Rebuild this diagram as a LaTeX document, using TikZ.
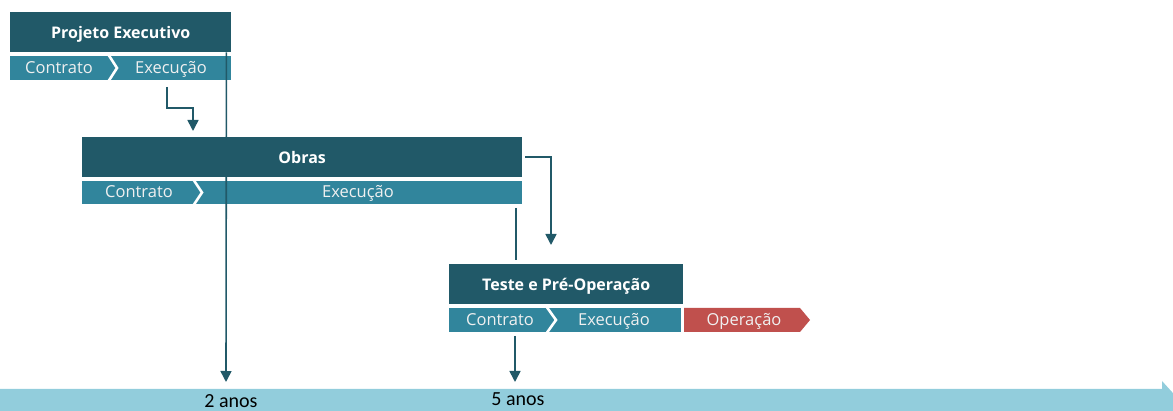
\documentclass[tikz,border=0pt]{standalone}
\usepackage{fontspec}
\setmainfont{Open Sans}
\newfontfamily\axfont{Carlito}
\usetikzlibrary{arrows.meta,positioning}
\definecolor{hdr}{RGB}{33,89,104}
\definecolor{sub}{RGB}{49,133,156}
\definecolor{axis}{RGB}{146,205,220}
\definecolor{oper}{RGB}{192,80,77}
\tikzset{
  hdrbox/.style={fill=hdr, text=white, anchor=north west, inner sep=0pt,
    minimum height=40pt, text height=13pt, text depth=0pt,
    font=\bfseries\fontsize{16}{18}\selectfont},
  subtxt/.style={text=white!94!black, anchor=base, inner sep=0pt,
    font=\fontsize{16.5}{18}\selectfont},
  sep/.style={draw=white, line width=2.6pt},
  flow/.style={draw=hdr, line width=1.6pt, -{Triangle[length=11pt,width=11pt]}},
  plain/.style={draw=hdr, line width=1.6pt},
  yrlbl/.style={anchor=base, inner sep=0pt, font=\axfont\fontsize{20}{22}\selectfont},
}

\begin{document}
\begin{tikzpicture}[x=1pt, y=-1pt]
      \useasboundingbox (0,0) rectangle (1173,411);

      % Time axis
      \fill[axis] (0,389) -- (1162,389) -- (1162,381) -- (1182,403)
        -- (1162,425) -- (1162,417) -- (0,417) -- cycle;
      \node[yrlbl] (y2) at (231,408) {2 anos};
      \node[yrlbl] (y5) at (518,406) {5 anos};

      % Headers
      \node[hdrbox, minimum width=221pt] (proj) at (10,12) {Projeto Executivo};
      \node[hdrbox, minimum width=440pt] (obras) at (82,137) {Obras};
      \node[hdrbox, minimum width=234pt] (teste) at (449,264) {Teste e Pré-Operação};

      % Phase bars
      \fill[sub] (10,56) rectangle (231,80);
      \draw[sep] (108,54) -- (117,68) -- (108,82);
      \node[subtxt] (con1) at (59,74) {Contrato};
      \node[subtxt] (exe1) at (171,74) {Execução};

      \fill[sub] (82,181) rectangle (522,204);
      \draw[sep] (193,179) -- (202,192.5) -- (193,206);
      \node[subtxt] (con2) at (139,198) {Contrato};
      \node[subtxt] (exe2) at (358,198) {Execução};

      \fill[sub] (449,308) rectangle (681,332);
      \draw[sep] (546,306) -- (556,320) -- (546,334);
      \node[subtxt] (con3) at (500,326) {Contrato};
      \node[subtxt] (exe3) at (614,326) {Execução};
      \fill[oper] (684,308) -- (800,308) -- (810,320) -- (800,332) -- (684,332) -- cycle;
      \node[subtxt] (oper) at (744,326) {Operação};

      % Connectors
      \coordinate (e1) at (167,87);
      \coordinate (c1) at (193,108);
      \coordinate (t1) at (193,131);
      \coordinate (t2) at (226,382);
      \coordinate (t3) at (551,245);
      \coordinate (l1) at (516,208);
      \coordinate (l2) at (516,260);
      \coordinate (e3) at (515,336);
      \coordinate (t5) at (515,382);
      \draw[flow] (e1) |- (c1) -- (t1);
      \draw[flow] ([xshift=-5pt]proj.south east) -- (t2);
      \draw[flow] ([xshift=3pt]obras.east) -| (t3);
      \draw[plain] (l1) -- (l2);
      \draw[flow] (e3) -- (t5);
    \end{tikzpicture}
\end{document}
